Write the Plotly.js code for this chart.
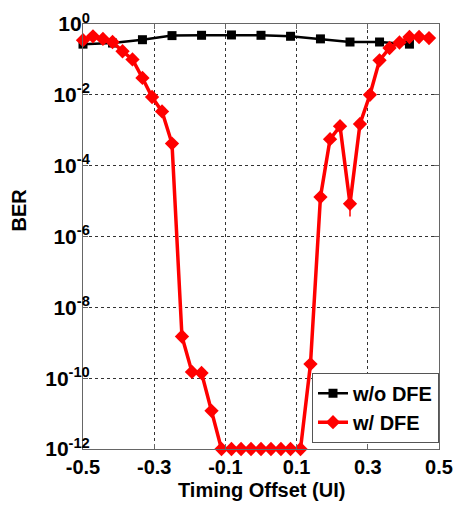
<!DOCTYPE html>
<html>
<head>
<meta charset="utf-8">
<script src="https://cdn.plot.ly/plotly-3.0.1.min.js"></script>
<style>html,body{margin:0;padding:0;background:#fff;}#chart{width:455px;height:508px;}</style>
</head>
<body>
<div id="chart"></div>
<script>
// Data
var offsetNoDfe = [-0.5, -0.417, -0.333, -0.25, -0.167, -0.083, 0, 0.083, 0.167, 0.25, 0.333, 0.417];
var berNoDfe = [0.27, 0.29, 0.36, 0.47, 0.48, 0.49, 0.48, 0.45, 0.38, 0.31, 0.31, 0.27];

var offsetDfe = [-0.5, -0.472, -0.444, -0.417, -0.389, -0.361, -0.333, -0.306, -0.278, -0.25,
  -0.222, -0.194, -0.167, -0.139, -0.111, -0.083, -0.056, -0.028, 0, 0.028,
  0.056, 0.083, 0.111, 0.139, 0.167, 0.194, 0.222, 0.25, 0.278, 0.306,
  0.333, 0.361, 0.389, 0.417, 0.444, 0.472];
var berDfe = [0.35, 0.45, 0.38, 0.31, 0.17, 0.10, 0.030, 0.0087, 0.0034, 4.2e-4,
  1.5e-9, 1.5e-10, 1.4e-10, 1.2e-11, 1e-12, 1e-12, 1e-12, 1e-12, 1e-12, 1e-12,
  1e-12, 1e-12, 1e-12, 2.5e-10, 1.3e-5, 5.6e-4, 1.3e-3, 8.4e-6, 1.5e-3, 0.01,
  0.094, 0.21, 0.30, 0.43, 0.43, 0.40];
var errPlusDfe = [0,0,0,0,0,0,0,0,0,0, 0,0,0,0,0,0,0,0,0,0, 0,0,0,0,0,0,0,5e-6,0,0, 0,0,0,0,0,0];
var errMinusDfe = [0,0,0,0,0,0,0,0,0,0, 0,0,0,0,0,0,0,0,0,0, 0,0,0,0,0,0,0,4.7e-6,0,0, 0,0,0,0,0,0];

var xTickVals = [-0.5, -0.3, -0.1, 0.1, 0.3, 0.5];
var xTickText = ['-0.5', '-0.3', '-0.1', '0.1', '0.3', '0.5'];
var yTickVals = [1, 1e-2, 1e-4, 1e-6, 1e-8, 1e-10, 1e-12];
var yTickText = ['10<sup>0</sup>', '10<sup>-2</sup>', '10<sup>-4</sup>', '10<sup>-6</sup>', '10<sup>-8</sup>', '10<sup>-10</sup>', '10<sup>-12</sup>'];
var seriesNames = ['w/o DFE', 'w/ DFE'];

var fontFam = 'Liberation Sans, Arial, sans-serif';

var traces = [
  {
    x: offsetNoDfe, y: berNoDfe, name: seriesNames[0], type: 'scatter', mode: 'lines+markers',
    line: {color: '#000000', width: 2.5},
    marker: {symbol: 'square', size: 9, color: '#000000'},
    cliponaxis: false
  },
  {
    x: offsetDfe, y: berDfe, name: seriesNames[1], type: 'scatter', mode: 'lines+markers',
    line: {color: '#ff0000', width: 3.5},
    marker: {symbol: 'diamond', size: 11, color: '#ff0000'},
    error_y: {type: 'data', symmetric: false, array: errPlusDfe, arrayminus: errMinusDfe, color: '#ff0000', thickness: 1.5, width: 0},
    cliponaxis: false
  }
];

var layout = {
  width: 455, height: 508,
  margin: {l: 83, r: 16, t: 24, b: 59},
  paper_bgcolor: '#ffffff', plot_bgcolor: '#ffffff',
  showlegend: true,
  font: {family: fontFam, size: 20, color: '#000', weight: 'bold'},
  xaxis: {
    range: [-0.5, 0.5], tickvals: xTickVals, ticktext: xTickText, automargin: false,
    showgrid: true, gridcolor: '#333', griddash: 'dot', gridwidth: 1,
    zeroline: false, showline: true, linecolor: '#666', linewidth: 1, mirror: 'ticks',
    ticks: 'inside', ticklen: 5, tickcolor: '#666',
    tickfont: {family: fontFam, size: 20, color: '#000', weight: 'bold'}
  },
  yaxis: {
    type: 'log', range: [-12, 0], tickvals: yTickVals, ticktext: yTickText, automargin: false,
    showgrid: true, gridcolor: '#333', griddash: 'dot', gridwidth: 1,
    zeroline: false, showline: true, linecolor: '#666', linewidth: 1, mirror: 'ticks',
    ticks: 'inside', ticklen: 5, tickcolor: '#666', ticklabelstandoff: -12,
    tickfont: {family: fontFam, size: 21, color: '#000', weight: 'bold'}
  },
  legend: {
    x: 1, y: 0.015, xanchor: 'right', yanchor: 'bottom',
    bgcolor: '#ffffff', bordercolor: '#555', borderwidth: 1,
    font: {family: fontFam, size: 20, color: '#000', weight: 'bold'},
    tracegroupgap: 0, itemwidth: 30
  },
  annotations: [
    {text: 'Timing Offset (UI)', xref: 'paper', yref: 'paper', x: 0.5, y: -0.0965,
     xanchor: 'center', yanchor: 'middle', showarrow: false,
     font: {family: fontFam, size: 20, color: '#000', weight: 'bold'}},
    {text: 'BER', xref: 'paper', yref: 'paper', x: -0.179, y: 0.562, textangle: -90,
     xanchor: 'center', yanchor: 'middle', showarrow: false,
     font: {family: fontFam, size: 20, color: '#000', weight: 'bold'}}
  ]
};

Plotly.newPlot('chart', traces, layout, {displayModeBar: false, staticPlot: true});
</script>
</body>
</html>
